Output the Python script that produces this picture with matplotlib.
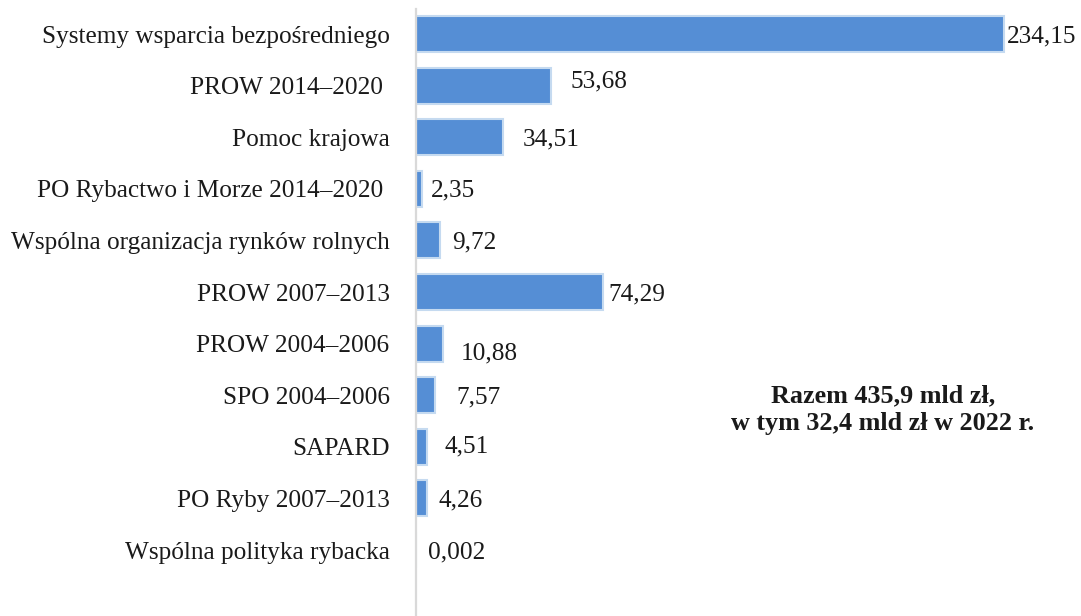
import matplotlib
matplotlib.use("Agg")
import matplotlib.pyplot as plt

categories = [
    "Systemy wsparcia bezpośredniego",
    "PROW 2014–2020 ",
    "Pomoc krajowa",
    "PO Rybactwo i Morze 2014–2020 ",
    "Wspólna organizacja rynków rolnych",
    "PROW 2007–2013",
    "PROW 2004–2006",
    "SPO 2004–2006",
    "SAPARD",
    "PO Ryby 2007–2013",
    "Wspólna polityka rybacka",
]
values = [234.15, 53.68, 34.51, 2.35, 9.72, 74.29, 10.88, 7.57, 4.51, 4.26, 0.002]
value_labels = ["234,15", "53,68", "34,51", "2,35", "9,72", "74,29", "10,88",
                "7,57", "4,51", "4,26", "0,002"]
note = "Razem 435,9 mld zł,\nw tym 32,4 mld zł w 2022 r."

# label offsets in pixels (style)
label_dx = [3, 20, 20, 9, 12, 6, 17, 21, 17, 12, 12]
label_dy = [0, 6, 0, 0, 0, 0, -8, 0, 2, 0, 0]

plt.rcParams['font.family'] = ['Liberation Serif', 'DejaVu Serif']

W, H = 1081, 616
fig = plt.figure(figsize=(W / 100, H / 100), dpi=100)
left = 416 / W
xmax = 250
width_px = 588 / 234.15 * xmax
ax = fig.add_axes([left, 0, width_px / W, (H - 9) / H])

ypos = list(range(len(categories)))
ax.barh(ypos, values, height=0.7, color="#558ED5", edgecolor="#C5DAF0",
        linewidth=1.5, zorder=2)
ax.set_xlim(0, xmax)
ax.set_ylim(11.279, -0.4845)
ax.set_yticks(ypos)
ax.set_yticklabels(categories, fontsize=18.2, color="#1a1a1a")
ax.tick_params(axis='y', length=0, pad=19)
ax.set_xticks([])
for s in ["top", "right", "bottom"]:
    ax.spines[s].set_visible(False)
ax.spines["left"].set_color("#D9D9D9")
ax.spines["left"].set_linewidth(1.6)
ax.spines["left"].set_zorder(3)

for y, v, lab, dx, dy in zip(ypos, values, value_labels, label_dx, label_dy):
    ax.annotate(lab, xy=(v, y), xytext=(dx, dy - 2), textcoords="offset pixels",
                ha="left", va="center", fontsize=18.2, color="#1a1a1a")

fig.text(883 / W, 1 - 410 / H, note, ha="center", va="center",
         fontsize=18.8, fontweight="bold", color="#1a1a1a", linespacing=1.25)

fig.savefig("out.png", dpi=100)
